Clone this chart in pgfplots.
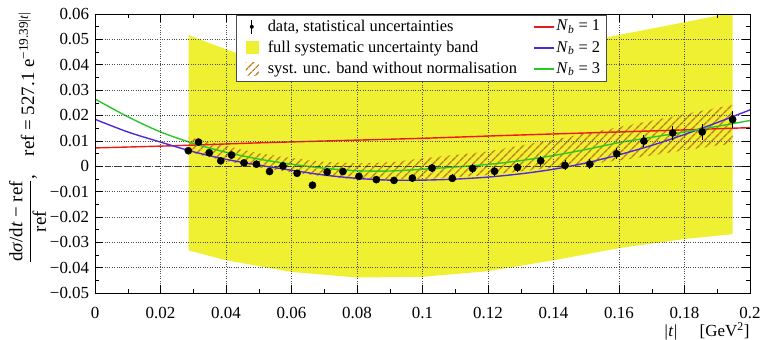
\documentclass[border=0pt]{standalone}
\usepackage{fontspec}
\setmainfont{Liberation Serif}
\usepackage{pgfplots}
\usepackage{pgfplotstable}
\pgfplotsset{compat=1.18}
\usetikzlibrary{patterns.meta}
\definecolor{bandyellow}{RGB}{240,240,50}
\definecolor{hatchcol}{RGB}{190,120,25}
\definecolor{nbred}{RGB}{235,25,25}
\definecolor{nbblue}{RGB}{80,40,220}
\definecolor{nbgreen}{RGB}{40,200,40}
\pgfplotstableread{
x y e
0.0285 0.0061 0.0010
0.0316 0.0095 0.0010
0.0349 0.0053 0.0010
0.0384 0.0021 0.0010
0.0417 0.0044 0.0010
0.0455 0.0013 0.0010
0.0493 0.0008 0.0010
0.0533 -0.0021 0.0010
0.0574 0.0001 0.0011
0.0617 -0.0028 0.0011
0.0664 -0.0075 0.0012
0.0709 -0.0023 0.0012
0.0757 -0.0021 0.0012
0.0806 -0.0040 0.0013
0.0859 -0.0053 0.0013
0.0913 -0.0056 0.0014
0.0969 -0.0047 0.0014
0.1029 -0.0007 0.0015
0.1091 -0.0048 0.0016
0.1153 -0.0009 0.0016
0.1220 -0.0020 0.0017
0.1290 -0.0005 0.0018
0.1361 0.0021 0.0019
0.1435 0.0003 0.0020
0.1511 0.0008 0.0021
0.1593 0.0049 0.0022
0.1676 0.0099 0.0024
0.1764 0.0131 0.0026
0.1854 0.0135 0.0030
0.1947 0.0184 0.0032
}\datatable
\begin{document}
\fontsize{17}{20}\selectfont
\begin{tikzpicture}
\begin{axis}[name=ax,
  width=655bp, height=279bp, scale only axis,
  xmin=0, xmax=0.2, ymin=-0.05, ymax=0.06,
  scaled ticks=false,
  xtick={0,0.02,0.04,0.06,0.08,0.1,0.12,0.14,0.16,0.18,0.2},
  xticklabels={0,0.02,0.04,0.06,0.08,0.1,0.12,0.14,0.16,0.18,0.2},
  ytick={-0.05,-0.04,-0.03,-0.02,-0.01,0,0.01,0.02,0.03,0.04,0.05,0.06},
  yticklabels={−0.05,−0.04,−0.03,−0.02,−0.01,0,0.01,0.02,0.03,0.04,0.05,0.06},
  minor x tick num=1, minor y tick num=1,
  tick align=inside, major tick length=8bp, minor tick length=4bp,
  tick style={black, line width=0.5pt},
  axis line style={black, line width=0.7pt},
  grid=major, major grid style={black!70, dotted, line width=0.5pt},
  axis on top,
  xticklabel style={yshift=-8bp},
  xlabel={\textit{|t|}\hspace{1.3em}[GeV\textsuperscript{2}]},
  xlabel style={at={(axis description cs:1.008,-0.085)}, anchor=north east},
  ylabel={$\displaystyle\frac{\mbox{d\textit{σ}/d\textit{t} − ref}}{\mbox{ref}}$\mbox{,}\quad ref = 527.1 e\textsuperscript{−19.39|\textit{t}|}},
  ylabel style={at={(axis description cs:-0.103,1.027)}, anchor=east, font=\fontsize{19}{22}\selectfont},
  legend style={at={(axis description cs:0.216,0.998)}, anchor=north west,
    draw=black!70, line width=0.6pt, fill=white,
    font=\fontsize{16.5}{19}\selectfont, row sep=3bp, inner xsep=4bp, inner ysep=3bp,
    /tikz/every even column/.append style={column sep=14bp}},
  legend columns=2, legend cell align=left,
]
% full systematic band
\addplot[fill=bandyellow, draw=none, forget plot] coordinates {
 (0.0286,0.0517) (0.035,0.0485) (0.0434,0.0445) (0.06,0.0400) (0.08,0.0375)
 (0.10,0.0378) (0.12,0.0405) (0.14,0.0455) (0.157,0.0510) (0.175,0.0555) (0.1947,0.0605)
 (0.1947,-0.0268) (0.18,-0.0287) (0.16,-0.0323) (0.14,-0.0371) (0.12,-0.0414)
 (0.10,-0.0436) (0.08,-0.0439) (0.06,-0.0417) (0.04,-0.0371) (0.0286,-0.0332) (0.0286,0.0517)};
% band without normalisation
\addplot[draw=none, pattern={Lines[angle=45,distance=6bp,line width=1.5bp]}, pattern color=hatchcol, forget plot] coordinates {
 (0.0286,0.0115) (0.04,0.0080) (0.05,0.0051) (0.06,0.0032) (0.07,0.0017) (0.08,0.0011)
 (0.09,0.0015) (0.10,0.0031) (0.12,0.0058) (0.14,0.0105) (0.16,0.0154) (0.18,0.0205) (0.1947,0.0242)
 (0.1947,0.0089) (0.18,0.0063) (0.16,0.0022) (0.14,-0.0006) (0.12,-0.0035) (0.10,-0.0052)
 (0.08,-0.0053) (0.07,-0.0040) (0.06,-0.0025) (0.05,-0.0005) (0.04,0.0020) (0.0286,0.0055) (0.0286,0.0115)};
% zero line
\addplot[black!80, dash pattern=on 6bp off 4bp, line width=0.7pt, forget plot] coordinates {(0,0) (0.2,0)};
% Nb = 1
\addplot[nbred, line width=1.4pt, smooth, forget plot] coordinates {
 (0,0.0072) (0.025,0.0081) (0.05,0.0092) (0.075,0.0101) (0.1,0.0110)
 (0.125,0.0121) (0.15,0.0131) (0.175,0.0141) (0.2,0.0152)};
% Nb = 2
\addplot[nbblue, line width=1.4pt, smooth, forget plot] coordinates {
 (0,0.0185) (0.01,0.0135) (0.02,0.0095) (0.03,0.0057) (0.04,0.0027) (0.05,0.0004)
 (0.06,-0.0016) (0.07,-0.0035) (0.08,-0.0048) (0.09,-0.0055) (0.10,-0.0055) (0.11,-0.0051)
 (0.12,-0.0043) (0.13,-0.0030) (0.14,-0.0012) (0.15,0.0013) (0.16,0.0045) (0.17,0.0082)
 (0.18,0.0125) (0.19,0.0172) (0.2,0.0222)};
% Nb = 3
\addplot[nbgreen, line width=1.4pt, smooth, forget plot] coordinates {
 (0,0.0265) (0.01,0.0195) (0.02,0.0135) (0.03,0.0090) (0.04,0.0055) (0.05,0.0028)
 (0.06,0.0008) (0.07,-0.0008) (0.08,-0.0018) (0.09,-0.0019) (0.10,-0.0012) (0.11,-0.0003)
 (0.12,0.0007) (0.13,0.0022) (0.14,0.0042) (0.15,0.0066) (0.16,0.0093) (0.17,0.0114)
 (0.18,0.0135) (0.19,0.0157) (0.2,0.0180)};
% data
\addplot[black, only marks, mark=*, mark size=3.6bp, forget plot,
  error bars/.cd, y dir=both, y explicit, error bar style={line width=0.8pt}, error mark=none]
  table[x=x, y=y, y error=e] {\datatable};
% legend
\addlegendimage{legend image code/.code={\path[draw=none] (0,0) -- (25bp,0); \draw[black, line width=0.7pt] (11bp,-7bp) -- (11bp,7bp); \fill[black, draw=none] (11bp,0) circle (2bp);}}
\addlegendentry{data, statistical uncertainties}
\addlegendimage{legend image code/.code={\draw[nbred, line width=1.4pt] (0,0) -- (20bp,0);}}
\addlegendentry{\textit{N}\textsubscript{\textit{b}} = 1}
\addlegendimage{legend image code/.code={\path[draw=none] (0,0) -- (25bp,0); \fill[bandyellow, draw=none] (5bp,-6.5bp) rectangle (18bp,6.5bp);}}
\addlegendentry{full systematic uncertainty band}
\addlegendimage{legend image code/.code={\draw[nbblue, line width=1.4pt] (0,0) -- (20bp,0);}}
\addlegendentry{\textit{N}\textsubscript{\textit{b}} = 2}
\addlegendimage{legend image code/.code={\path[draw=none] (0,0) -- (25bp,0); \fill[draw=none, pattern={Lines[angle=45,distance=6bp,line width=1.5bp]}, pattern color=hatchcol] (5bp,-6.5bp) rectangle (18bp,6.5bp);}}
\addlegendentry{syst. unc. band without normalisation}
\addlegendimage{legend image code/.code={\draw[nbgreen, line width=1.4pt] (0,0) -- (20bp,0);}}
\addlegendentry{\textit{N}\textsubscript{\textit{b}} = 3}
\end{axis}
\pgfresetboundingbox
\path ([xshift=-95bp,yshift=-46bp]ax.south west) rectangle ([xshift=10bp,yshift=14bp]ax.north east);
\end{tikzpicture}
\end{document}
